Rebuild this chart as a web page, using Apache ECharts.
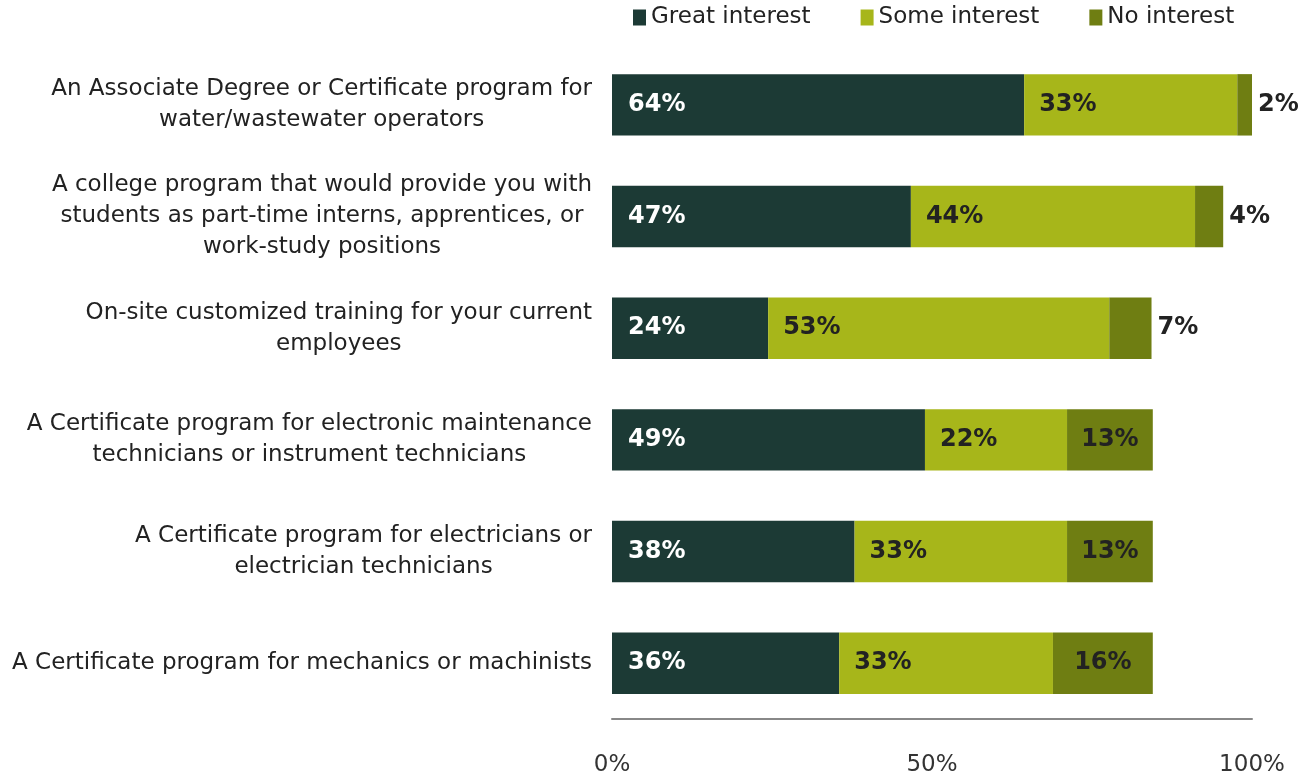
<!DOCTYPE html>
<html>
<head>
<meta charset="utf-8">
<script src="https://cdn.jsdelivr.net/npm/echarts@6/dist/echarts.min.js"></script>
<style>
  html, body { margin: 0; padding: 0; background: #fff; }
  #chart { width: 1316px; height: 778px; }
</style>
</head>
<body>
<div id="chart"></div>
<script>
// categories, top to bottom
var categories = [
  'An Associate Degree or Certificate program for\nwater/wastewater operators',
  'A college program that would provide you with\nstudents as part-time interns, apprentices, or\nwork-study positions',
  'On-site customized training for your current\nemployees',
  'A Certificate program for electronic maintenance\ntechnicians or instrument technicians',
  'A Certificate program for electricians or\nelectrician technicians',
  'A Certificate program for mechanics or machinists'
];
var seriesNames = ['Great interest', 'Some interest', 'No interest'];
var greatInterest = [64.4, 46.7, 24.4, 48.9, 37.9, 35.5];
var someInterest  = [33.3, 44.4, 53.3, 22.2, 33.2, 33.4];
var noInterest    = [2.3, 4.4, 6.6, 13.4, 13.4, 15.6];
var tickLabels = ['0%', '50%', '100%'];

var FONT = 'DejaVu Sans';
var myChart = echarts.init(document.getElementById('chart'));

function pct(p) { return Math.round(p.value) + '%'; }

// small "no interest" values get their label outside the bar
var noData = noInterest.map(function (v) {
  return {
    value: v,
    label: v < 10 ? { position: 'right', distance: 6 } : { position: 'inside' }
  };
});

// legend text boxes widened a bit so the items sit where the original ones do
var legendWidths = [166, 159, 129];

myChart.setOption({
  animation: false,
  textStyle: { fontFamily: FONT },
  color: ['#1c3a35', '#a7b61a', '#6f7e12'],
  legend: {
    left: 628,
    top: 1,
    icon: 'rect',
    itemWidth: 13,
    itemHeight: 16,
    itemGap: 50,
    textStyle: { fontSize: 23, color: '#222', fontFamily: FONT },
    data: seriesNames.map(function (n, i) {
      return { name: n, textStyle: { width: legendWidths[i] } };
    })
  },
  grid: { left: 612, right: 64, top: 49, bottom: 59 },
  xAxis: {
    type: 'value',
    min: 0,
    max: 100,
    interval: 50,
    axisLine: { show: true, lineStyle: { color: '#888', width: 2 } },
    axisTick: { show: false },
    splitLine: { show: false },
    axisLabel: {
      margin: 35,
      fontSize: 23,
      color: '#333',
      fontFamily: FONT,
      formatter: function (v) { return tickLabels[Math.round(v / 50)]; }
    }
  },
  yAxis: {
    type: 'category',
    inverse: true,
    data: categories,
    axisLine: { show: false },
    axisTick: { show: false },
    axisLabel: {
      margin: 20,
      fontSize: 23,
      color: '#222',
      fontFamily: FONT,
      lineHeight: 31,
      formatter: function (v) {
        return v.split('\n').map(function (l) { return '{c|' + l + '}'; }).join('\n');
      },
      rich: { c: { align: 'center', fontSize: 23, lineHeight: 31, color: '#222', fontFamily: FONT } }
    }
  },
  series: [
    {
      name: seriesNames[0], type: 'bar', stack: 'all', barCategoryGap: '45%',
      data: greatInterest,
      label: { show: true, position: 'insideLeft', distance: 16, color: '#fff', fontSize: 24, fontWeight: 'bold', fontFamily: FONT, formatter: pct }
    },
    {
      name: seriesNames[1], type: 'bar', stack: 'all',
      data: someInterest,
      label: { show: true, position: 'insideLeft', distance: 15, color: '#222', fontSize: 24, fontWeight: 'bold', fontFamily: FONT, formatter: pct }
    },
    {
      name: seriesNames[2], type: 'bar', stack: 'all',
      data: noData,
      label: { show: true, color: '#222', fontSize: 24, fontWeight: 'bold', fontFamily: FONT, formatter: pct }
    }
  ]
});
</script>
</body>
</html>
